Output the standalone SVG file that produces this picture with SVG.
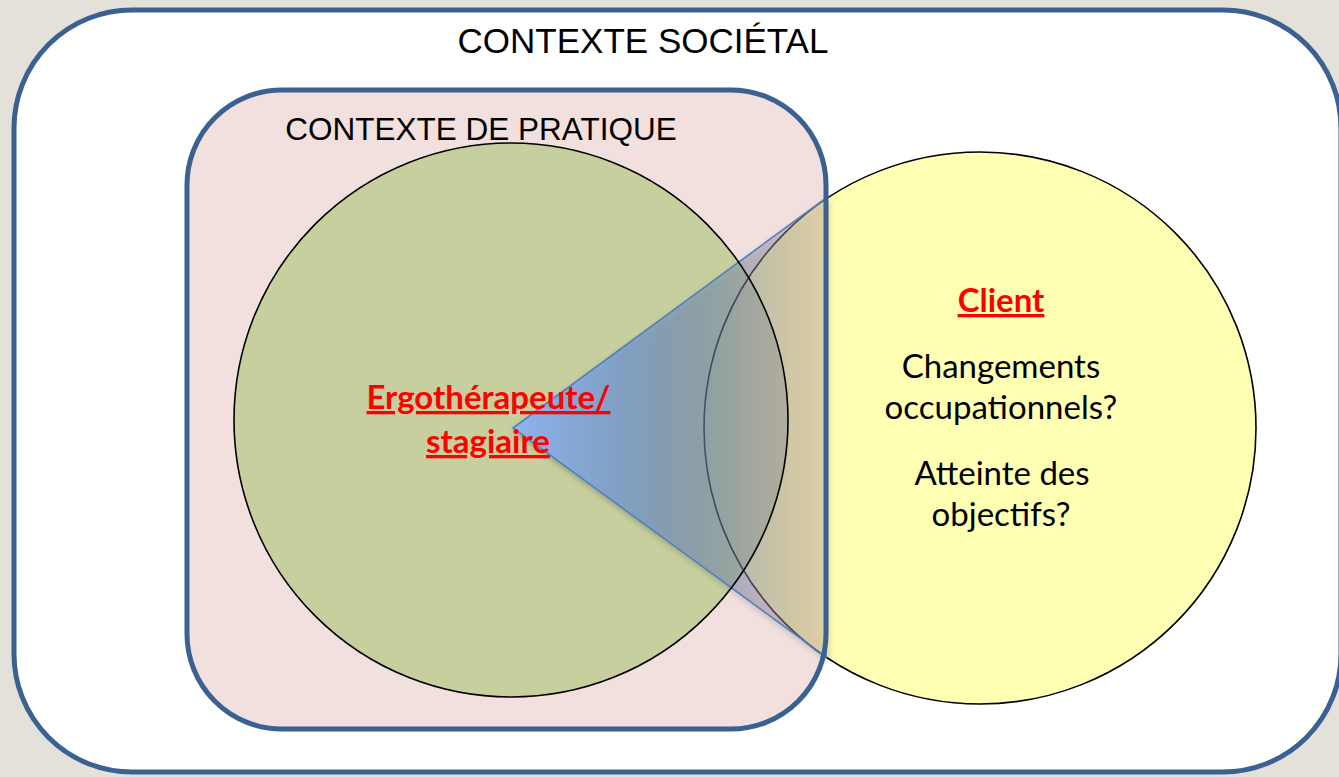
<svg xmlns="http://www.w3.org/2000/svg" width="1339" height="777" viewBox="0 0 1339 777">
  <defs>
    <style>
      .frame { stroke: #3A6191; stroke-width: 5; }
      .title { font-family: "Liberation Sans", Arial, sans-serif; fill: #000; }
      .body { font-family: Lato, "Open Sans", sans-serif; font-size: 33px; fill: #000; text-anchor: middle; }
      .hl { font-family: Lato, "Open Sans", sans-serif; font-size: 33px; font-weight: bold; fill: #FF0000; text-anchor: middle; text-decoration: underline; }
      .circ { stroke: #000; stroke-width: 1.6; }
    </style>
    <linearGradient id="beam" gradientUnits="userSpaceOnUse" x1="513" y1="0" x2="826" y2="0">
      <stop offset="0" stop-color="#8DB4F0" stop-opacity="1"/>
      <stop offset="0.35" stop-color="#7A9CCB" stop-opacity="0.85"/>
      <stop offset="0.65" stop-color="#7088B0" stop-opacity="0.5"/>
      <stop offset="1" stop-color="#C09AA0" stop-opacity="0.36"/>
    </linearGradient>
    <filter id="shadow" x="-10%" y="-10%" width="130%" height="130%">
      <feDropShadow dx="2" dy="3" stdDeviation="3" flood-color="#000" flood-opacity="0.3"/>
    </filter>
  </defs>

  <rect x="0" y="0" width="1339" height="777" fill="#E3E1D9"/>

  <g id="contexte-societal">
    <rect class="frame" x="14" y="10" width="1327" height="762" rx="118" ry="118" fill="#FFFFFF"/>
    <text class="title" x="643" y="53" font-size="35" text-anchor="middle">CONTEXTE SOCIÉTAL</text>
  </g>

  <g id="contexte-pratique-fill">
    <rect x="187" y="90" width="639" height="639" rx="95" ry="95" fill="#F2E0DE"/>
  </g>

  <g id="client">
    <circle cx="980" cy="428" r="276" fill="#FFFFB3"/>
  </g>

  <g id="ergotherapeute">
    <circle cx="511" cy="420" r="277" fill="#C8CF9E"/>
  </g>

  <circle cx="980" cy="428" r="276" fill="none" class="circ"/>

  <g id="connectors">
    <polygon points="513,428 826,198 826,657" fill="url(#beam)" stroke="#4F81BD" stroke-width="1.6" stroke-linejoin="miter" filter="url(#shadow)"/>
  </g>

  <circle cx="511" cy="420" r="277" fill="none" class="circ"/>

  <g id="contexte-pratique">
    <rect class="frame" x="187" y="90" width="639" height="639" rx="95" ry="95" fill="none"/>
    <text class="title" x="481" y="140" font-size="31.5" text-anchor="middle">CONTEXTE DE PRATIQUE</text>
  </g>

  <g id="ergotherapeute-label">
    <text class="hl" x="488.5" y="409">Ergothérapeute/</text>
    <text class="hl" x="488" y="453">stagiaire</text>
  </g>

  <g id="client-label">
    <text class="hl" x="1001" y="312">Client</text>
    <text class="body" x="1001" y="378">Changements</text>
    <text class="body" x="1001" y="419">occupationnels?</text>
    <text class="body" x="1002" y="485">Atteinte des</text>
    <text class="body" x="1001" y="526">objectifs?</text>
  </g>
</svg>
